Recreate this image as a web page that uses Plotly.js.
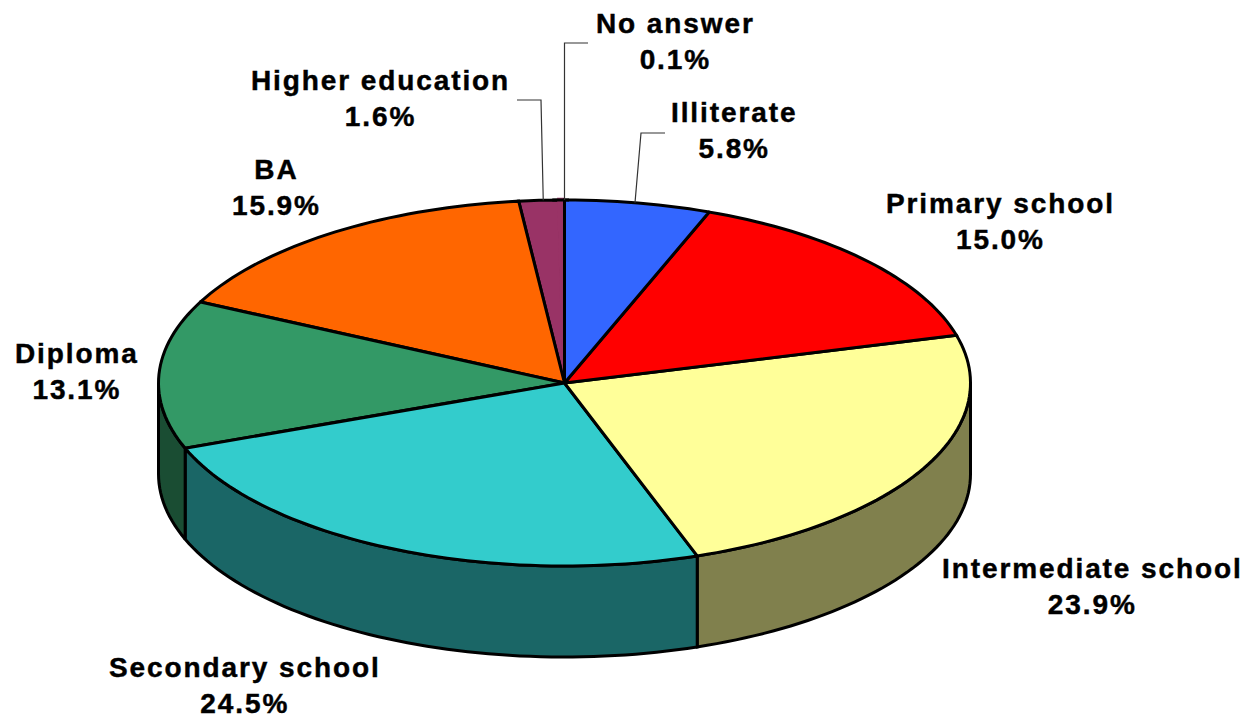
<!DOCTYPE html>
<html>
<head>
<meta charset="utf-8">
<script src="https://cdn.plot.ly/plotly-3.0.1.min.js"></script>
<style>
html,body{margin:0;padding:0;background:#fff;overflow:hidden}
#chart{width:1250px;height:715px}
.annotation-text{letter-spacing:1.9px;stroke:#000;stroke-width:0.45px}
</style>
</head>
<body>
<div id="chart"></div>
<script>
const categories = ["Illiterate","Primary school","Intermediate school","Secondary school","Diploma","BA","Higher education","No answer"];
const shares = [5.8,15.0,23.9,24.5,13.1,15.9,1.6,0.1];
const topColors = ["#3366FF","#FF0000","#FFFF99","#33CCCC","#339966","#FF6600","#993366","#993366"];
const sideColors = ["#1A3380","#800000","#80804D","#1A6666","#1A4D33","#803300","#4D1A33","#4D1A33"];
const labelX = [734,1000,1092,245,77,276,380,675];
const labelY = [130,221,586,685,371,187,98,41];

const cx = 564.5, cy = 383, rx = 406, ry = 183, depth = 91;
const pt = (deg, dy) => {
  const a = deg * Math.PI / 180;
  return [cx + rx * Math.sin(a), cy - ry * Math.cos(a) + dy];
};
const arc = (a0, a1, dy) => {
  const n = Math.max(2, Math.ceil((a1 - a0) / 1.5));
  const out = [];
  for (let i = 0; i <= n; i++) out.push(pt(a0 + (a1 - a0) * i / n, dy));
  return out;
};
const poly = (pts, fill, width, lineColor) => ({
  type: 'scatter', mode: 'lines', x: pts.map(p => p[0]), y: pts.map(p => p[1]),
  fill: 'toself', fillcolor: fill, line: {color: lineColor || '#000', width: width, simplify: false},
  hoverinfo: 'skip', showlegend: false
});

const sides = [], tops = [];
const last = categories.length - 1;
let acc = 0, tinyStart = 0, tinyEnd = 0;
categories.forEach((c, i) => {
  const a0 = acc * 3.6, a1 = (acc + shares[i]) * 3.6;
  acc += shares[i];
  const s0 = Math.max(a0, 90), s1 = Math.min(a1, 270);
  if (s1 > s0) {
    const upper = arc(s0, s1, 0), lower = arc(s0, s1, depth).reverse();
    sides.push(poly(upper.concat(lower, [upper[0]]), sideColors[i], 3));
  }
  const wedge = [[cx, cy]].concat(arc(a0, a1, 0), [[cx, cy]]);
  // The 0.1% slice is narrower than the outline: it merges into its neighbour
  if (i === last) { tinyStart = a0; tinyEnd = a1; tops.push(poly(wedge, topColors[i], 4.5, topColors[i])); }
  else tops.push(poly(wedge, topColors[i], 3));
});
// Paint order: the merged slices first, the rest over them
const order = [6, 7, 5, 4, 3, 2, 1, 0].map(i => tops[i]);
const rimPts = arc(tinyStart - 1, tinyEnd + 1, 0);
const rim = {
  type: 'scatter', mode: 'lines', x: rimPts.map(p => p[0]), y: rimPts.map(p => p[1]),
  line: {color: '#000', width: 3}, hoverinfo: 'skip', showlegend: false
};

// Leader lines for the three labels that sit away from their slices
const leader = (startDeg, elbowX, elbowY, endX) => {
  const s = pt(startDeg, 0);
  return {
    type: 'scatter', mode: 'lines', x: [s[0], elbowX, endX], y: [s[1], elbowY, elbowY],
    line: {color: '#333', width: 1.2}, hoverinfo: 'skip', showlegend: false
  };
};
const leaders = [leader(10, 641, 133, 665), leader(-3, 541, 100, 517), leader(0, 564.5, 43, 588)];

const annotations = categories.map((c, i) => ({
  x: labelX[i], y: labelY[i], xref: 'x', yref: 'y', xanchor: 'center', yanchor: 'middle',
  showarrow: false, align: 'center',
  text: c + '<br>' + shares[i].toFixed(1) + '%',
  font: {family: '"Liberation Sans", Arial, sans-serif', size: 28, color: '#000', weight: 700}
}));

Plotly.newPlot('chart', sides.concat(order, [rim], leaders), {
  width: 1250, height: 715, margin: {l: 0, r: 0, t: 0, b: 0},
  paper_bgcolor: '#fff', plot_bgcolor: '#fff', showlegend: false,
  xaxis: {range: [0, 1250], visible: false, fixedrange: true},
  yaxis: {range: [715, 0], visible: false, fixedrange: true},
  annotations: annotations
}, {displayModeBar: false, staticPlot: true});
</script>
</body>
</html>
